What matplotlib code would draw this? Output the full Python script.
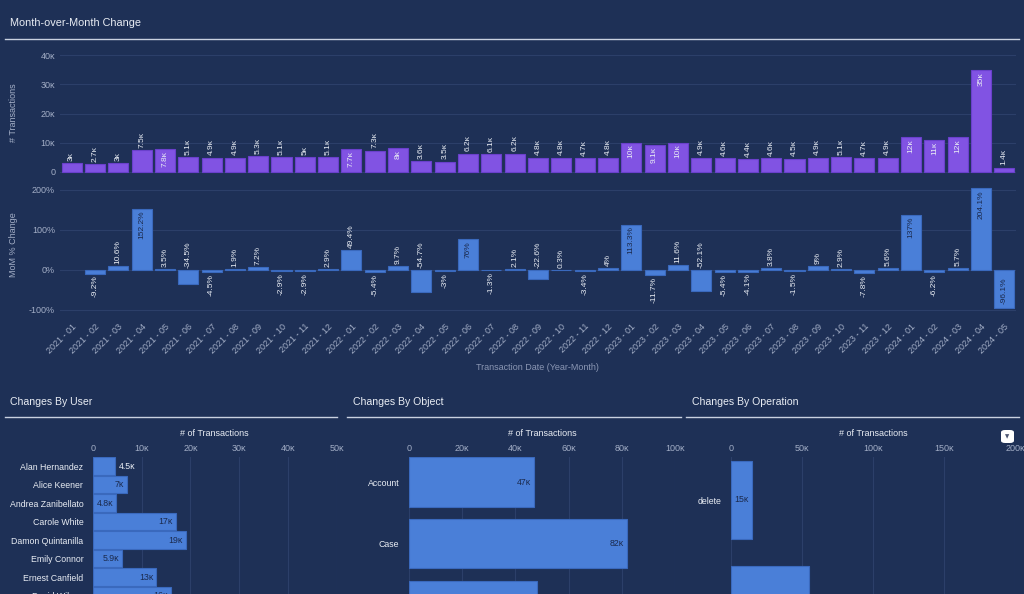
import matplotlib
matplotlib.use("Agg")
import matplotlib.pyplot as plt
from matplotlib.lines import Line2D
from matplotlib.patches import FancyBboxPatch

# =============================================================================
# Data
# =============================================================================
MONTHS = [f"{y} - {m:02d}" for y in (2021, 2022, 2023, 2024) for m in range(1, 13)][:41]

TRANSACTIONS = [
    3000, 2700, 3000, 7500, 7800, 5100, 4900, 4900, 5300, 5100, 5000, 5100,
    7700, 7300, 8000, 3600, 3500, 6200, 6100, 6200, 4800, 4800, 4700, 4800,
    10000, 9100, 10000, 4900, 4600, 4400, 4600, 4500, 4900, 5100, 4700, 4900,
    12000, 11000, 12000, 35000, 1400,
]

MOM_PCT = [
    None, -9.2, 10.6, 152.2, 3.5, -34.5, -4.5, 1.9, 7.2, -2.9, -2.9, 2.9,
    49.4, -5.4, 9.7, -54.7, -3, 76, -1.3, 2.1, -22.6, 0.3, -3.4, 4,
    113.3, -11.7, 11.6, -52.1, -5.4, -4.1, 3.8, -1.5, 9, 2.9, -7.8, 5.6,
    137, -6.2, 5.7, 204.1, -96.1,
]

USERS = ["Alan Hernandez", "Alice Keener", "Andrea Zanibellato", "Carole White",
         "Damon Quintanilla", "Emily Connor", "Ernest Canfield", "David Wilson"]
USER_COUNTS = [4500, 7000, 4800, 17000, 19000, 5900, 13000, 16000]

OBJECTS = ["Account", "Case", "Contact"]
OBJECT_COUNTS = [47000, 82000, 48000]

OPERATIONS = ["delete", "insert"]
OPERATION_COUNTS = [15000, 55000]

# =============================================================================
# Style
# =============================================================================
BG = "#1e3056"
GRID = "#2c3f69"
TICK = "#a3aec6"
TEXT = "#e9edf4"
PURPLE = "#8153e3"
PURPLE_EDGE = "#6a40cc"
BLUE = "#4a7fd8"
BLUE_EDGE = "#3a69bd"
DARK = "#1b2a4d"

plt.rcParams['font.family'] = ['Liberation Sans', 'DejaVu Sans']

W, H = 1024, 594
fig = plt.figure(figsize=(W / 100, H / 100), dpi=100, facecolor=BG)


def rect(l, t, r, b):
    return [l / W, 1 - b / H, (r - l) / W, (b - t) / H]


def kfmt(v):
    if v < 1000:
        return f"{v:g}"
    s = f"{v / 1000:.1f}".rstrip('0').rstrip('.')
    return s + "ᴋ"


def style_axes(ax):
    ax.set_facecolor(BG)
    for s in ax.spines.values():
        s.set_visible(False)
    ax.tick_params(length=0, colors=TICK, labelsize=6.5)


def hline(x0, x1, y):
    fig.add_artist(Line2D([x0 / W, x1 / W], [1 - y / H, 1 - y / H],
                          color="#c9d1e0", lw=1.0))


# =============================================================================
# Month-over-month: counts
# =============================================================================
fig.text(10 / W, 1 - 23 / H, "Month-over-Month Change", color=TEXT,
         fontsize=7.8, va="center", ha="left")
hline(5, 1019, 39)

x = list(range(len(MONTHS)))
ax1 = fig.add_axes(rect(60, 48, 1016, 175))
style_axes(ax1)
ax1.bar(x, TRANSACTIONS, width=0.86, color=PURPLE, edgecolor=PURPLE_EDGE, lw=0.8, zorder=2)
ax1.set_xlim(-0.5, len(MONTHS) - 0.5)
ax1.set_ylim(-1100, 42500)
ax1.set_yticks([0, 10000, 20000, 30000, 40000])
ax1.set_yticklabels([kfmt(v) for v in [0, 10000, 20000, 30000, 40000]])
ax1.set_xticks([])
ax1.grid(axis="y", color=GRID, lw=0.8, zorder=0)
for xi, v in zip(x, TRANSACTIONS):
    if v >= 7600:
        ax1.text(xi, v - 700, kfmt(v), rotation=90, ha="center", va="top",
                 color=TEXT, fontsize=6, zorder=3)
    else:
        ax1.text(xi, v + 800, kfmt(v), rotation=90, ha="center", va="bottom",
                 color=TEXT, fontsize=6, zorder=3)
fig.text(14 / W, 1 - 113 / H, "# Transactions", rotation=90, color=TICK,
         fontsize=6.5, ha="center", va="center")

# =============================================================================
# Month-over-month: % change
# =============================================================================
ax2 = fig.add_axes(rect(60, 183, 1016, 312))
style_axes(ax2)
mx = [i for i, v in enumerate(MOM_PCT) if v is not None]
mv = [v for v in MOM_PCT if v is not None]
ax2.bar(mx, mv, width=0.86, color=BLUE, edgecolor=BLUE_EDGE, lw=0.8, zorder=2)
ax2.set_xlim(-0.5, len(MONTHS) - 0.5)
ax2.set_ylim(-105, 217)
ax2.set_yticks([-100, 0, 100, 200])
ax2.set_yticklabels(["-100%", "0%", "100%", "200%"])
ax2.grid(axis="y", color=GRID, lw=0.8, zorder=0)
ax2.set_xticks(x)
ax2.set_xticklabels(MONTHS, rotation=45, ha="right", rotation_mode="anchor",
                    fontsize=6.5, color=TICK)
ax2.tick_params(axis="x", pad=7)
for xi, v in zip(mx, mv):
    lab = f"{v:g}%"
    if v >= 70:
        ax2.text(xi, v - 5, lab, rotation=90, ha="center", va="top",
                 color=DARK, fontsize=6, zorder=3)
    elif v >= 0:
        ax2.text(xi, v + 5, lab, rotation=90, ha="center", va="bottom",
                 color=TEXT, fontsize=6, zorder=3)
    elif v <= -90:
        ax2.text(xi, -18, lab, rotation=90, ha="center", va="top",
                 color=DARK, fontsize=6, zorder=3)
    elif v <= -20:
        ax2.text(xi, 5, lab, rotation=90, ha="center", va="bottom",
                 color=TEXT, fontsize=6, zorder=3)
    else:
        ax2.text(xi, v - 5, lab, rotation=90, ha="center", va="top",
                 color=TEXT, fontsize=6, zorder=3)
fig.text(14 / W, 1 - 245 / H, "MoM % Change", rotation=90, color=TICK,
         fontsize=6.5, ha="center", va="center")
fig.text(537 / W, 1 - 367 / H, "Transaction Date (Year-Month)", color="#8b97b4",
         fontsize=6.5, ha="center", va="center")


# =============================================================================
# Bottom panels
# =============================================================================
AX_TOP = 457


def hbar_panel(title, tx, line, x0, x1, first_px, pitch_px, cats, vals,
               xmax, step, height, outside_below):
    fig.text(tx / W, 1 - 402 / H, title, color=TEXT, fontsize=7.6,
             ha="left", va="center")
    hline(line[0], line[1], 417)
    fig.text((x0 + x1) / 2 / W, 1 - 434 / H, "# of Transactions", color=TEXT,
             fontsize=6.5, ha="center", va="center")
    top = -(first_px - AX_TOP) / pitch_px
    bottom = top + (H + 20 - AX_TOP) / pitch_px
    ax = fig.add_axes(rect(x0, AX_TOP, x1, H + 20))
    style_axes(ax)
    y = list(range(len(cats)))
    ax.barh(y, vals, height=height, color=BLUE, edgecolor=BLUE_EDGE, lw=0.8, zorder=2)
    ax.set_xlim(0, xmax)
    ax.set_ylim(bottom, top)
    ticks = list(range(0, xmax + 1, step))
    ax.set_xticks(ticks)
    ax.set_xticklabels([kfmt(t) for t in ticks])
    ax.xaxis.tick_top()
    ax.tick_params(axis="x", pad=3)
    ax.set_yticks(y)
    ax.set_yticklabels(cats, color=TEXT, fontsize=6.3)
    ax.tick_params(axis="y", pad=7)
    ax.grid(axis="x", color=GRID, lw=0.8, zorder=0)
    for yi, v in zip(y, vals):
        if v < outside_below:
            ax.text(v + xmax * 0.015, yi, kfmt(v), ha="left", va="center",
                    color=TEXT, fontsize=6.3, zorder=3)
        else:
            ax.text(v - xmax * 0.012, yi, kfmt(v), ha="right", va="center",
                    color=DARK, fontsize=6.3, zorder=3)
    return ax


hbar_panel("Changes By User", 10, (5, 337), 93, 336.5, 466, 18.5,
           USERS, USER_COUNTS, 50000, 10000, 0.92, 4600)
hbar_panel("Changes By Object", 353, (347, 681), 409, 675, 482, 61.7,
           OBJECTS, OBJECT_COUNTS, 100000, 20000, 0.795, 0)
hbar_panel("Changes By Operation", 692, (686, 1019), 731, 1015, 500, 105,
           OPERATIONS, OPERATION_COUNTS, 200000, 50000, 0.745, 0)

# filter icon
fig.add_artist(FancyBboxPatch((1001 / W, 1 - 443 / H), 13 / W, 13 / H,
                              boxstyle="round,pad=0,rounding_size=0.004",
                              transform=fig.transFigure, facecolor="white",
                              edgecolor="none"))
fig.text(1007.5 / W, 1 - 436.5 / H, "▼", color="#4a5470", fontsize=4,
         ha="center", va="center", family=["DejaVu Sans"])

fig.savefig("out.png", dpi=100, facecolor=BG)
